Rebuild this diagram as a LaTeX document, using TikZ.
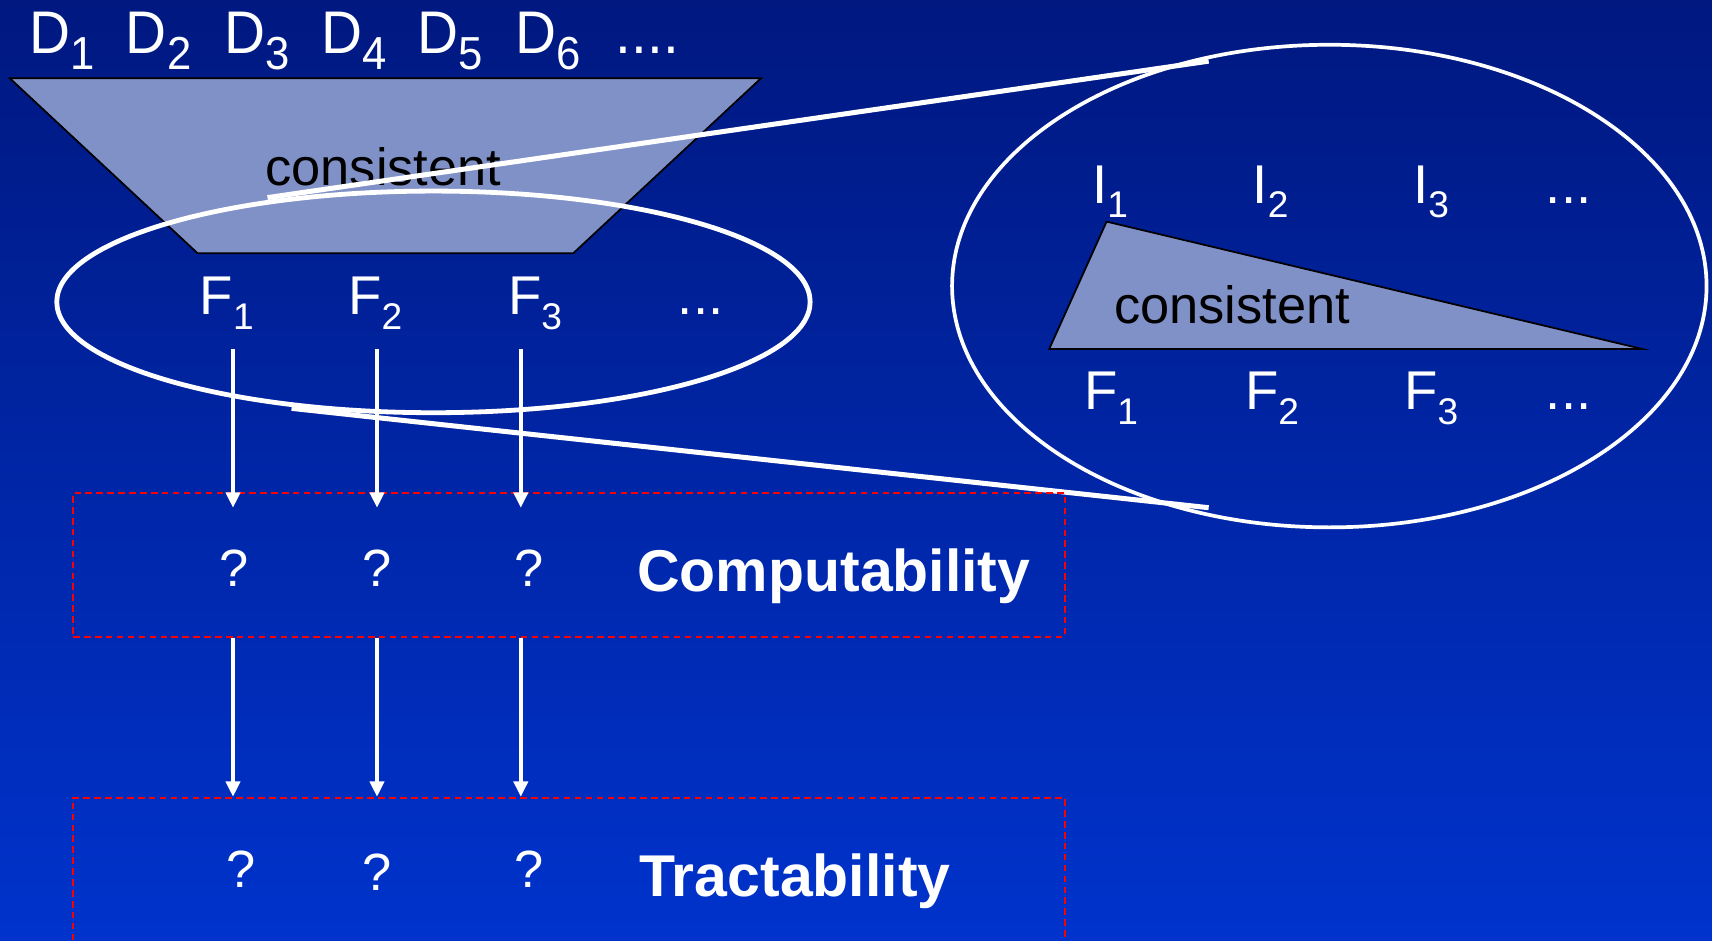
\documentclass[tikz,border=0pt]{standalone}
\usepackage{fontspec}
\setmainfont{Liberation Sans}
\usetikzlibrary{arrows.meta,shapes.geometric}
\newcommand\lsub[1]{\raisebox{-6.5pt}{\fontsize{17}{17}\selectfont #1}}
\newcommand\dsub[1]{\raisebox{-7pt}{\fontsize{20}{20}\selectfont #1}}
\definecolor{bgtop}{RGB}{0,24,128}
\definecolor{bgbot}{RGB}{0,51,204}
\definecolor{trap}{RGB}{128,145,200}
\begin{document}
\begin{tikzpicture}[x=0.5pt,y=-0.5pt,
 lbl/.style={text=white,font=\fontsize{25}{25}\selectfont,anchor=base west,inner sep=0pt},
 dlbl/.style={text=white,font=\fontsize{26}{26}\selectfont,anchor=base west,inner sep=0pt,yscale=1.06},
 blk/.style={text=black,font=\fontsize{24}{24}\selectfont,anchor=base west,inner sep=0pt},
 qm/.style={text=white,font=\fontsize{24}{24}\selectfont,anchor=base,inner sep=0pt},
 ttl/.style={text=white,font=\bfseries\fontsize{27}{27}\selectfont,anchor=base west,inner sep=0pt},
 zoomring/.style={draw=white,ellipse,inner sep=0pt},
 callout/.style={draw=white,line width=2.3pt},
 arr/.style={draw=white,line width=1.6pt,-{Triangle[length=7pt,width=6.5pt]}},
 dashbox/.style={draw=red,dash pattern=on 3pt off 2pt,line width=0.9pt,inner sep=0pt},
 panel/.style={fill=trap,draw=black,line width=0.8pt}]
\useasboundingbox (0,0) rectangle (1568,861);
\shade[top color=bgtop,bottom color=bgbot] (0,0) rectangle (1568,861);
\clip (0,0) rectangle (1568,861);

% top labels
\node[dlbl] (d1) at (26.5,48.8) {D\dsub{1}};
\node[dlbl] (d2) at (115,48.8) {D\dsub{2}};
\node[dlbl] (d3) at (205,48.8) {D\dsub{3}};
\node[dlbl] (d4) at (293.7,48.8) {D\dsub{4}};
\node[dlbl] (d5) at (382,48.8) {D\dsub{5}};
\node[dlbl] (d6) at (471.6,48.8) {D\dsub{6}};
\node[dlbl] (d7) at (563.5,48.8) {....};

% trapezoid
\draw[panel] (9,71.7) -- (697,71.7) -- (525,232) -- (181,232) -- cycle;
\node[blk] (cons1) at (242.6,169.5) {consistent};

% left ring
\node[zoomring,line width=2.2pt,minimum width=345pt,minimum height=101.5pt] (lring) at (397,276.5) {};
\node[lbl] (f1) at (182.6,288.5) {F\lsub{1}};
\node[lbl] (f2) at (318.6,288.5) {F\lsub{2}};
\node[lbl] (f3) at (465,288.5) {F\lsub{3}};
\node[lbl] (f4) at (620.5,288.5) {...};

% callout lines
\coordinate (lt) at (245,181);
\coordinate (rt) at (1107,56);
\coordinate (lb) at (267,374);
\coordinate (rb) at (1107,465);
\draw[callout] (lt) -- (rt);
\draw[callout] (lb) -- (rb);

% right ring
\node[zoomring,line width=1.7pt,minimum width=345.5pt,minimum height=221pt] (rring) at (1217.5,262) {};
\draw[panel] (1013.5,203) -- (1504,319.6) -- (961,319.6) -- cycle;
\node[blk] (cons2) at (1020,296) {consistent};
\node[lbl] (i1) at (1000,186) {I\lsub{1}};
\node[lbl] (i2) at (1147,186) {I\lsub{2}};
\node[lbl] (i3) at (1294,186) {I\lsub{3}};
\node[lbl] (i4) at (1415.5,186) {...};
\node[lbl] (g1) at (992.5,375.5) {F\lsub{1}};
\node[lbl] (g2) at (1140,375.5) {F\lsub{2}};
\node[lbl] (g3) at (1285.7,375.5) {F\lsub{3}};
\node[lbl] (g4) at (1415.5,375.5) {...};

% boxes
\node[dashbox,minimum width=454pt,minimum height=65.65pt] (box1) at (521,517.35) {};
\node[dashbox,minimum width=454pt,minimum height=84.7pt] (box2) at (521,815.3) {};

\node[qm] (q1) at (214,537.6) {?};
\node[qm] (q2) at (345,537.6) {?};
\node[qm] (q3) at (484.5,537.6) {?};
\node[ttl] (comp) at (583.3,542) {Computability};
\node[qm] (r1) at (221,813) {?};
\node[qm] (r2) at (345,816) {?};
\node[qm] (r3) at (484.5,813) {?};
\node[ttl] (tract) at (585,821) {Tractability};

% arrows
\coordinate (s1) at (213.4,319.8);
\coordinate (s2) at (345.3,319.8);
\coordinate (s3) at (477,319.8);
\coordinate (t1) at (213.4,465);
\coordinate (t2) at (345.3,465);
\coordinate (t3) at (477,465);
\draw[arr] (s1) -- (t1);
\draw[arr] (s2) -- (t2);
\draw[arr] (s3) -- (t3);
\draw[arr] (s1 |- box1.south) -- (s1 |- box2.north);
\draw[arr] (s2 |- box1.south) -- (s2 |- box2.north);
\draw[arr] (s3 |- box1.south) -- (s3 |- box2.north);
\end{tikzpicture}
\end{document}
